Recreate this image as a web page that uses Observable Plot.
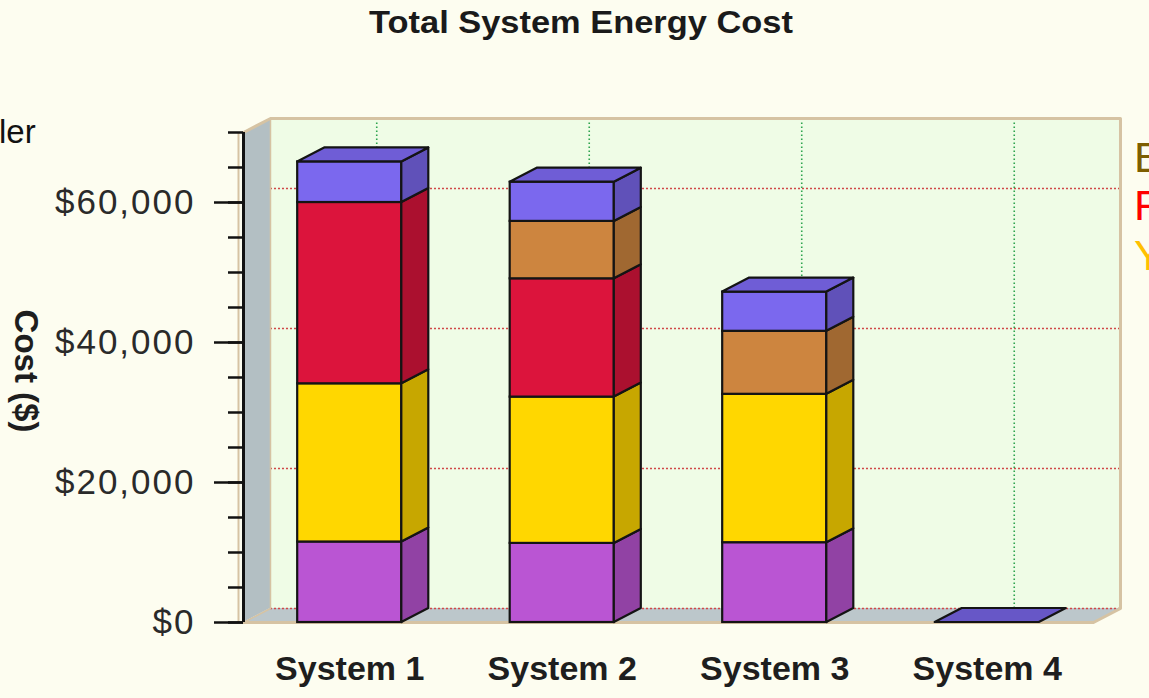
<!DOCTYPE html>
<html>
<head>
<meta charset="utf-8">
<script src="https://cdn.jsdelivr.net/npm/d3@7"></script>
<script src="https://cdn.jsdelivr.net/npm/@observablehq/plot@0.6"></script>
<style>
  html, body { margin: 0; padding: 0; background: #fdfdf0; overflow: hidden; width: 1149px; height: 698px; }
  #wrap { position: relative; width: 1149px; height: 698px; font-family: "Liberation Sans", Arial, sans-serif; }
  #chart { position: absolute; left: 0; top: 0; }
  .txt { position: absolute; white-space: nowrap; line-height: 1; }
  #title { left: 581px; top: 7px; font-size: 31px; font-weight: bold; color: #1a1a1a; transform: translateX(-50%) scaleX(1.11); }
  #ylabel { left: 26px; top: 371px; font-size: 33px; font-weight: bold; color: #1e1e1e; transform: translate(-50%, -50%) rotate(90deg); }
  #side { left: -1px; top: 115px; font-size: 33px; color: #111; }
  .leg { left: 1134px; font-size: 43px; }
</style>
</head>
<body>
<div id="wrap">
  <div id="chart"></div>
  <div class="txt" id="title">Total System Energy Cost</div>
  <div class="txt" id="ylabel">Cost ($)</div>
  <div class="txt" id="side">ler</div>
  <div class="txt leg" style="top:136px;color:#7d5e00">B</div>
  <div class="txt leg" style="top:184px;color:#ff0000">F</div>
  <div class="txt leg" style="top:234px;color:#ffc000">Y</div>
</div>
<script>
// Categories and stacked cost components (bottom to top), in dollars
const systems = ["System 1", "System 2", "System 3", "System 4"];
const orchidCost  = [11500, 11300, 11400, 0];
const goldCost    = [22600, 20900, 21200, 0];
const crimsonCost = [25900, 16900, 0, 0];
const peruCost    = [0, 8200, 9000, 0];
const slateCost   = [5800, 5600, 5600, 0];
const majorTicks = [0, 20000, 40000, 60000];
const minorTicks = [0, 5000, 10000, 15000, 20000, 25000, 30000, 35000, 40000, 45000, 50000, 55000, 60000, 65000, 70000];

const layers = [
  {values: orchidCost,  fill: "#ba55d3"},
  {values: goldCost,    fill: "#ffd700"},
  {values: crimsonCost, fill: "#dc143c"},
  {values: peruCost,    fill: "#cd853f"},
  {values: slateCost,   fill: "#7b68ee"}
];

// Extent of the box and the faux-3D depth (in data units)
const X0 = -0.5, X1 = 3.5, YMAX = 70000;
const HW = 0.245;   // half bar width
const DX = 0.127;   // depth along x
const DY = 2000;    // depth along y

const shade = (c, k) => d3.color(c).darker(k).formatHex();

// Build front faces, side faces and top faces
const fronts = [], sides = [], tops = [];
systems.forEach((name, i) => {
  let acc = 0, topFill = layers[layers.length - 1].fill;
  layers.forEach((L, j) => {
    const v = L.values[i];
    if (v > 0) {
      const id = `${i}-${j}`;
      fronts.push({i, y1: acc, y2: acc + v, fill: L.fill});
      sides.push({id, x: i + HW, y1: acc, y2: acc + v, fill: shade(L.fill, 0.7)});
      sides.push({id, x: i + HW + DX, y1: acc + DY, y2: acc + v + DY, fill: shade(L.fill, 0.7)});
      topFill = L.fill;
    }
    acc += v;
  });
  const f = acc > 0 ? shade(topFill, 0.3) : shade(topFill, 0.5);
  tops.push({id: i, y: acc, x1: i - HW, x2: i + HW, fill: f});
  tops.push({id: i, y: acc + DY, x1: i - HW + DX, x2: i + HW + DX, fill: f});
});

const tan = "#d6c3a3";

const chart = Plot.plot({
  width: 1149,
  height: 698,
  marginLeft: 243,
  marginRight: 56,
  marginTop: 132,
  marginBottom: 76,
  x: {type: "linear", domain: [X0, X1], axis: null},
  y: {domain: [0, YMAX]},
  color: {type: "identity"},
  style: {background: "#fdfdf0", fontFamily: "Liberation Sans, Arial, sans-serif", fontSize: "35px", color: "#2a2a2a"},
  marks: [
    // back wall
    Plot.rect([0], {x1: X0 + DX, x2: X1 + DX, y1: DY, y2: YMAX + DY, fill: "#effce6"}),
    // left wall
    Plot.areaY([{x: X0, y1: 0, y2: YMAX}, {x: X0 + DX, y1: DY, y2: YMAX + DY}], {x: "x", y1: "y1", y2: "y2", fill: "#b3bfc3"}),
    // floor
    Plot.areaX([{y: 0, x1: X0, x2: X1}, {y: DY, x1: X0 + DX, x2: X1 + DX}], {y: "y", x1: "x1", x2: "x2", fill: "#bcc7cb"}),
    // gridlines on the back wall
    Plot.ruleY(majorTicks, {y: d => d + DY, x1: X0 + DX, x2: X1 + DX, stroke: "#d04848", strokeWidth: 1.6, strokeDasharray: "2,2"}),
    Plot.ruleX(systems, {x: (d, i) => i + DX, y1: DY, y2: YMAX + DY, stroke: "#2ea44f", strokeWidth: 1.6, strokeDasharray: "1.5,2.5"}),
    // box edges
    Plot.line([[X0, YMAX], [X0 + DX, YMAX + DY], [X1 + DX, YMAX + DY], [X1 + DX, DY], [X1, 0], [X0, 0]], {stroke: tan, strokeWidth: 3}),
    Plot.line([[X0 + DX, YMAX + DY], [X0 + DX, DY], [X0, 0]], {stroke: tan, strokeWidth: 1.5}),
    Plot.ruleX([X0], {y1: 0, y2: YMAX, dx: -5, stroke: tan, strokeWidth: 2}),
    // value axis
    Plot.ruleX([X0], {y1: 0, y2: YMAX, stroke: "#111", strokeWidth: 3}),
    Plot.axisY(minorTicks, {anchor: "left", tickSize: 15, tickFormat: () => "", label: null, stroke: "#111", strokeWidth: 2.5}),
    Plot.axisY(majorTicks, {anchor: "left", tickSize: 29, tickPadding: 19, tickFormat: d => "$" + d3.format(",")(d), label: null, stroke: "#111", strokeWidth: 2.5, fill: "#2a2a2a", fontSize: 35}),
    // bars
    Plot.rect(fronts, {x1: d => d.i - HW, x2: d => d.i + HW, y1: "y1", y2: "y2", fill: "fill", stroke: "#141414", strokeWidth: 2.2}),
    Plot.areaY(sides, {x: "x", y1: "y1", y2: "y2", z: "id", fill: "fill", stroke: "#141414", strokeWidth: 2.2, strokeLinejoin: "round"}),
    Plot.areaX(tops, {y: "y", x1: "x1", x2: "x2", z: "id", fill: "fill", stroke: "#141414", strokeWidth: 2.2, strokeLinejoin: "round"}),
    // category labels
    Plot.text(systems, {x: (d, i) => i, frameAnchor: "bottom", dy: 47, lineAnchor: "middle", fontSize: 34, fontWeight: "bold", fill: "#1e1e1e"})
  ]
});

d3.select(chart).selectAll("[aria-label='y-axis tick label'] text").style("letter-spacing", "2px");
document.getElementById("chart").appendChild(chart);
</script>
</body>
</html>
